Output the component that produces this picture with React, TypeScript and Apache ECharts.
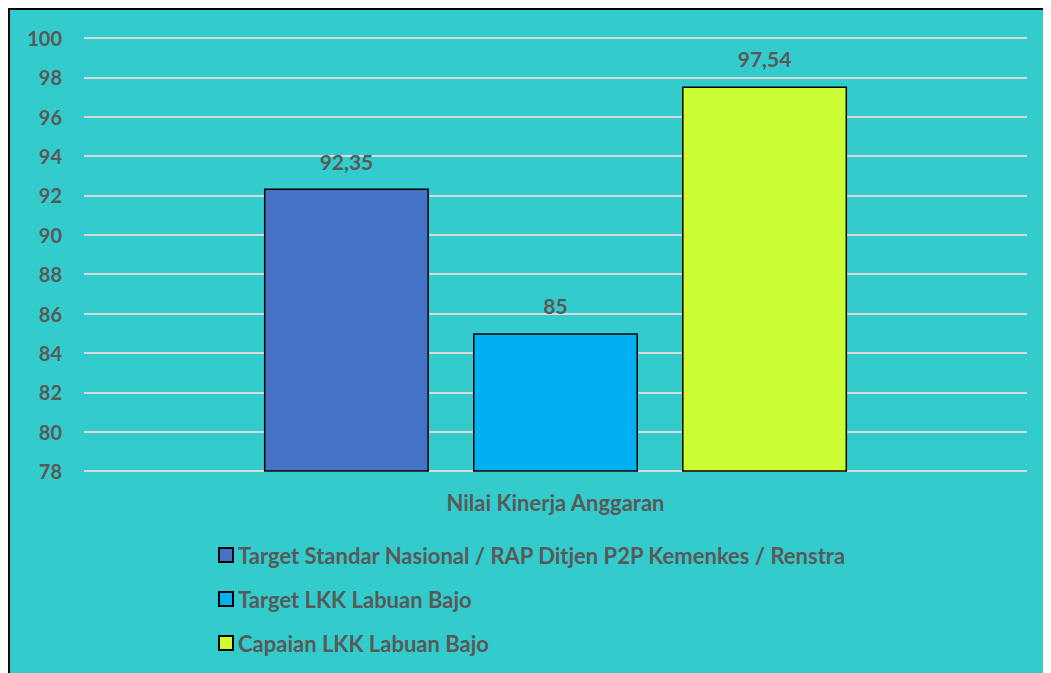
import React, { useEffect, useRef } from "react";
import * as echarts from "echarts";

const categories = ["Nilai Kinerja Anggaran"];
const seriesNames = [
  "Target Standar Nasional / RAP Ditjen P2P Kemenkes / Renstra",
  "Target LKK Labuan Bajo",
  "Capaian LKK Labuan Bajo",
];
const seriesValues = [[92.35], [85], [97.54]];
const seriesColors = ["#4472C4", "#00B0F0", "#CCFF33"];
const yMin = 78;
const yMax = 100;
const yInterval = 2;

const FONT = "Lato";
const TEXT = "#595959";

export default function App() {
  const ref = useRef<HTMLDivElement>(null);
  useEffect(() => {
    if (!ref.current) return;
    const chart = echarts.init(ref.current, null, { renderer: "svg" });
    chart.setOption({
      animation: false,
      backgroundColor: "#33CCCC",
      textStyle: { fontFamily: FONT },
      grid: { left: 74, right: 24, top: 28, bottom: 202 },
      xAxis: {
        type: "category",
        data: categories,
        axisLine: { show: false },
        axisTick: { show: false },
        axisLabel: {
          color: TEXT,
          fontWeight: "bold",
          fontSize: 22,
          fontFamily: FONT,
          margin: 20,
        },
      },
      yAxis: {
        type: "value",
        min: yMin,
        max: yMax,
        interval: yInterval,
        axisLine: { show: false },
        axisTick: { show: false },
        splitLine: { lineStyle: { color: "#D9D9D9", width: 2 } },
        axisLabel: {
          color: TEXT,
          fontWeight: "bold",
          fontSize: 20,
          fontFamily: FONT,
          margin: 22,
        },
      },
      legend: {
        orient: "vertical",
        left: 203,
        top: 528,
        itemGap: 20,
        itemWidth: 14,
        itemHeight: 14,
        icon: "rect",
        textStyle: {
          color: TEXT,
          fontWeight: "bold",
          fontSize: 22,
          fontFamily: FONT,
          lineHeight: 24,
        },
        data: seriesNames,
      },
      series: seriesNames.map((name, i) => ({
        name,
        type: "bar",
        data: seriesValues[i],
        barWidth: 165,
        barGap: "26.7%",
        itemStyle: {
          color: seriesColors[i],
          borderColor: "#000000",
          borderWidth: 1.5,
        },
        label: {
          show: true,
          position: "top",
          distance: 17,
          color: TEXT,
          fontWeight: "bold",
          fontSize: 21,
          fontFamily: FONT,
          formatter: (p: any) => String(p.value).replace(".", ","),
        },
      })),
    });
    return () => chart.dispose();
  }, []);
  return (
    <div
      style={{
        borderLeft: "2px solid #000",
        borderTop: "2px solid #000",
        width: 1041,
        height: 663,
        overflow: "hidden",
      }}
    >
      <div ref={ref} style={{ width: 1041, height: 663 }} />
    </div>
  );
}
